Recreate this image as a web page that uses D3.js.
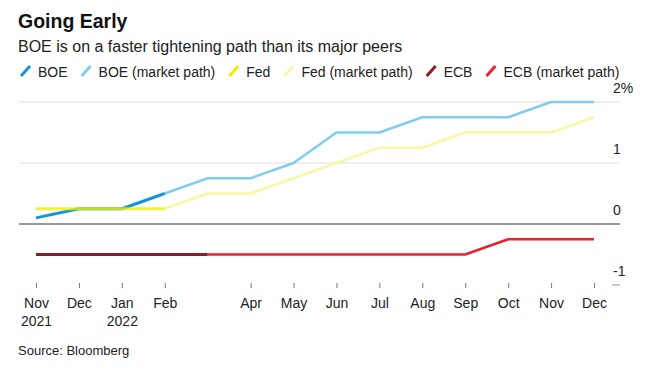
<!DOCTYPE html>
<html>
<head>
<meta charset="utf-8">
<script src="https://cdn.jsdelivr.net/npm/d3@7"></script>
<style>
  html, body { margin: 0; padding: 0; background: #fff; }
  svg { display: block; font-family: "Liberation Sans", Arial, Helvetica, sans-serif; }
</style>
</head>
<body>
<svg id="chart" width="646" height="370"></svg>
<script>
// ---- Data ----
const months = ["2021-11","2021-12","2022-01","2022-02","2022-03","2022-04","2022-05","2022-06","2022-07","2022-08","2022-09","2022-10","2022-11","2022-12"];
const monthLabels = ["Nov","Dec","Jan","Feb","Mar","Apr","May","Jun","Jul","Aug","Sep","Oct","Nov","Dec"];
const yearLabels = {"2021-11": "2021", "2022-01": "2022"};
const tickMonths = ["2021-11","2021-12","2022-01","2022-02","2022-04","2022-05","2022-06","2022-07","2022-08","2022-09","2022-10","2022-11","2022-12"];
const yTicks = [2, 1, 0, -1];

const boeMonths = ["2021-11","2021-12","2022-01","2022-02"];
const boe = [0.1, 0.25, 0.25, 0.5];
const boeMarketMonths = ["2022-02","2022-03","2022-04","2022-05","2022-06","2022-07","2022-08","2022-09","2022-10","2022-11","2022-12"];
const boeMarket = [0.5, 0.75, 0.75, 1.0, 1.5, 1.5, 1.75, 1.75, 1.75, 2.0, 2.0];

const fedMonths = ["2021-11","2021-12","2022-01","2022-02"];
const fed = [0.25, 0.25, 0.25, 0.25];
const fedMarketMonths = ["2022-02","2022-03","2022-04","2022-05","2022-06","2022-07","2022-08","2022-09","2022-10","2022-11","2022-12"];
const fedMarket = [0.25, 0.5, 0.5, 0.75, 1.0, 1.25, 1.25, 1.5, 1.5, 1.5, 1.75];

const ecbMonths = ["2021-11","2021-12","2022-01","2022-02","2022-03"];
const ecb = [-0.5, -0.5, -0.5, -0.5, -0.5];
const ecbMarketMonths = ["2022-03","2022-04","2022-05","2022-06","2022-07","2022-08","2022-09","2022-10","2022-11","2022-12"];
const ecbMarket = [-0.5, -0.5, -0.5, -0.5, -0.5, -0.5, -0.5, -0.25, -0.25, -0.25];

const seriesNames = ["BOE", "BOE (market path)", "Fed", "Fed (market path)", "ECB", "ECB (market path)"];

// ---- Styles ----
const colors = {
  "BOE": "#1396dd",
  "BOE (market path)": "#80cdee",
  "Fed": "#eef000",
  "Fed (market path)": "#f5f8a4",
  "ECB": "#8a1b28",
  "ECB (market path)": "#e6232c"
};
const widths = {
  "BOE": 3, "BOE (market path)": 2.5, "Fed": 3, "Fed (market path)": 2.5, "ECB": 3, "ECB (market path)": 2.5
};
const opac = {
  "BOE": 1, "BOE (market path)": 1, "Fed": 0.78, "Fed (market path)": 1, "ECB": 1, "ECB (market path)": 1
};

const svg = d3.select("#chart");

// Title, subtitle
svg.append("text").attr("x", 18).attr("y", 28)
  .attr("font-size", 19.5).attr("font-weight", "bold").attr("fill", "#111")
  .text("Going Early");
svg.append("text").attr("x", 18).attr("y", 52)
  .attr("font-size", 16).attr("fill", "#222")
  .text("BOE is on a faster tightening path than its major peers");

// Legend
let lx = 20;
const legG = svg.append("g");
seriesNames.forEach(name => {
  legG.append("line")
    .attr("x1", lx + 1).attr("y1", 76)
    .attr("x2", lx + 10).attr("y2", 66)
    .attr("stroke", colors[name]).attr("stroke-width", 3).attr("stroke-linecap", "butt");
  const t = legG.append("text").attr("x", lx + 18).attr("y", 77)
    .attr("font-size", 14).attr("fill", "#222").text(name);
  lx = lx + 18 + t.node().getComputedTextLength() + 13;
});

// Scales
const x = d3.scalePoint().domain(months).range([36, 594]);
const y = d3.scaleLinear().domain([-1, 2]).range([285, 102]);

// Gridlines
const grid = svg.append("g");
[2, 1].forEach(v => {
  grid.append("line").attr("x1", 19).attr("x2", 620)
    .attr("y1", y(v)).attr("y2", y(v))
    .attr("stroke", "#dedede").attr("stroke-width", 1);
});
grid.append("line").attr("x1", 612).attr("x2", 620)
  .attr("y1", y(-1)).attr("y2", y(-1))
  .attr("stroke", "#888").attr("stroke-width", 1);

// Y labels
svg.append("g").selectAll("text").data(yTicks).join("text")
  .attr("x", 613).attr("y", d => y(d) - 9)
  .attr("font-size", 14).attr("fill", "#222")
  .text(d => d === 2 ? "2%" : (d < 0 ? "-" + Math.abs(d) : String(d)));

// Zero line
svg.append("line").attr("x1", 19).attr("x2", 620)
  .attr("y1", y(0)).attr("y2", y(0))
  .attr("stroke", "#777").attr("stroke-width", 1.5);

// X axis ticks + labels
const xAxis = d3.axisBottom(x).tickValues(tickMonths).tickSize(5).tickSizeOuter(0)
  .tickFormat(d => monthLabels[months.indexOf(d)]);
const xg = svg.append("g").attr("transform", "translate(0,283)").call(xAxis);
xg.select(".domain").remove();
xg.selectAll(".tick line").attr("stroke", "#777").attr("stroke-width", 1);
xg.selectAll(".tick text")
  .attr("y", 0).attr("dy", null)
  .attr("font-size", 14).attr("font-family", "Liberation Sans, Arial, sans-serif").attr("fill", "#222")
  .each(function(d) {
    const t = d3.select(this);
    const lbl = monthLabels[months.indexOf(d)];
    t.text(null);
    t.append("tspan").attr("x", 0).attr("y", 25).text(lbl);
    if (yearLabels[d]) t.append("tspan").attr("x", 0).attr("y", 43).text(yearLabels[d]);
  });

// Lines
const line = d3.line().x(d => x(d.m)).y(d => y(d.v));
const build = (ms, vs) => ms.map((m, i) => ({ m: m, v: vs[i] }));
const drawOrder = [
  ["ECB (market path)", ecbMarketMonths, ecbMarket],
  ["ECB", ecbMonths, ecb],
  ["Fed (market path)", fedMarketMonths, fedMarket],
  ["BOE (market path)", boeMarketMonths, boeMarket],
  ["BOE", boeMonths, boe],
  ["Fed", fedMonths, fed]
];
const lg = svg.append("g");
drawOrder.forEach(([name, ms, vs]) => {
  lg.append("path").datum(build(ms, vs))
    .attr("d", line)
    .attr("fill", "none")
    .attr("stroke", colors[name])
    .attr("stroke-width", widths[name])
    .attr("stroke-opacity", opac[name])
    .attr("stroke-linejoin", "round");
});

// Source
svg.append("text").attr("x", 18).attr("y", 355)
  .attr("font-size", 13).attr("fill", "#222")
  .text("Source: Bloomberg");
</script>
</body>
</html>
